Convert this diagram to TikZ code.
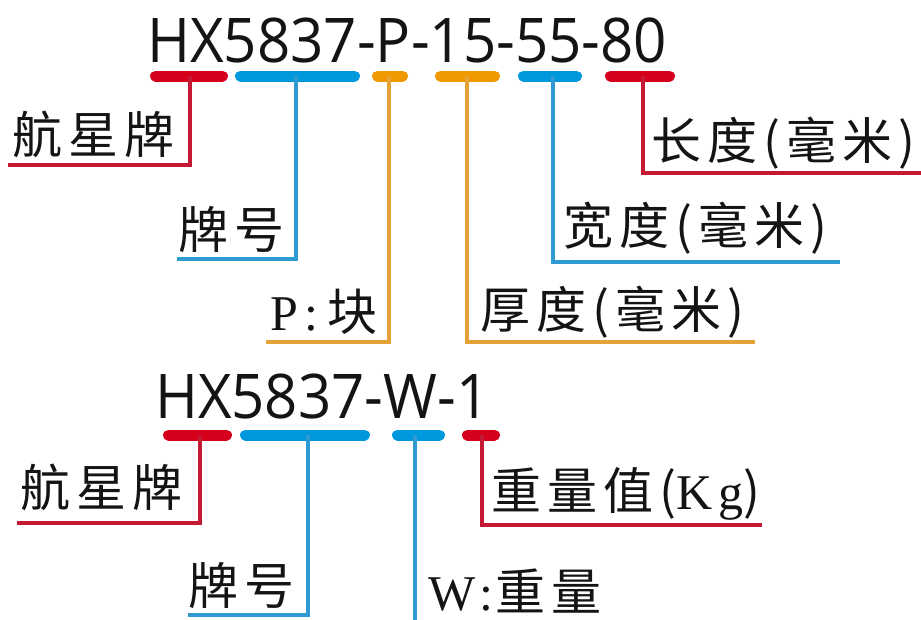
\documentclass[tikz,border=0pt]{standalone}
\usepackage{fontspec}
\setmainfont{Liberation Serif}
\newfontfamily\cjk[LetterSpace=12]{Noto Sans CJK SC}
\newfontfamily\latlab[LetterSpace=12]{Liberation Serif}
\newfontfamily\titlefont{Open Sans}
\definecolor{bred}{RGB}{214,0,28}
\definecolor{lred}{RGB}{195,25,50}
\definecolor{bblue}{RGB}{0,152,220}
\definecolor{lblue}{RGB}{45,155,210}
\definecolor{borange}{RGB}{240,152,0}
\definecolor{lorange}{RGB}{228,162,55}
\definecolor{ink}{RGB}{20,20,20}
\tikzset{
  thickbar/.style={line width=11pt, line cap=round},
  conn/.style={line width=4pt},
  lbl/.style={inner sep=0pt, anchor=base west, text=ink, font=\fontsize{50}{60}\selectfont},
  ttl/.style={inner sep=0pt, anchor=base west, text=ink, font=\titlefont\fontsize{61.6}{70}\selectfont},
}
\begin{document}
\begin{tikzpicture}[x=1pt,y=-1pt]
\useasboundingbox (0,0) rectangle (921,619);
\fill[white] (0,0) rectangle (921,619);

% ---------- top code ----------
\node[ttl] (t1) at (147,62) {\scalebox{0.946}[1]{HX5837-P-15-55-80}};
\draw[thickbar,bred]    (155.5,76) -- (222.5,76);
\draw[thickbar,bblue]   (240.5,76) -- (354.5,76);
\draw[thickbar,borange] (377.5,76) -- (402.5,76);
\draw[thickbar,borange] (440.5,76) -- (494.5,76);
\draw[thickbar,bblue]   (523.5,76) -- (576.5,76);
\draw[thickbar,bred]    (610.5,76) -- (669.5,76);

\coordinate (a1) at (190,76);  \coordinate (e1) at (8,165);
\coordinate (a2) at (296,76);  \coordinate (e2) at (177,259);
\coordinate (a3) at (389,76);  \coordinate (e3) at (266,342);
\coordinate (a4) at (467,76);  \coordinate (e4) at (755,342);
\coordinate (a5) at (553,76);  \coordinate (e5) at (840,262);
\coordinate (a6) at (643,76);  \coordinate (e6) at (921,173);

\draw[conn,lred]    (a1) |- (e1);
\draw[conn,lblue]   (a2) |- (e2);
\draw[conn,lorange] (a3) |- (e3);
\draw[conn,lorange] (a4) |- (e4);
\draw[conn,lblue]   (a5) |- (e5);
\draw[conn,lred]    (a6) |- (e6);

\node[lbl] (n1) at (12,153)  {\cjk 航星牌};
\node[lbl] (n2) at (178,248) {\cjk 牌号};
\node[lbl] (n3) at (270,330) {{\latlab P:}\hspace{10pt}{\cjk 块}};
\node[lbl] (n4) at (480,328) {\cjk 厚度(毫米)};
\node[lbl] (n5) at (563,244) {\cjk 宽度(毫米)};
\node[lbl] (n6) at (651,159) {\cjk 长度(毫米)};

% ---------- bottom code ----------
\node[ttl] (t2) at (155,418) {\scalebox{0.944}[1]{HX5837-W-1}};
\draw[thickbar,bred]  (168.5,435) -- (226.5,435);
\draw[thickbar,bblue] (245.5,435) -- (364.5,435);
\draw[thickbar,bblue] (397.5,435) -- (439.5,435);
\draw[thickbar,bred]  (467.5,435) -- (494.5,435);

\coordinate (c1) at (200,435);  \coordinate (f1) at (17,523);
\coordinate (c2) at (308,435);  \coordinate (f2) at (188,615);
\coordinate (c3) at (415,435);  \coordinate (f3) at (415,625);
\coordinate (c4) at (482,435);  \coordinate (f4) at (762,525);

\draw[conn,lred]  (c1) |- (f1);
\draw[conn,lblue] (c2) |- (f2);
\draw[conn,lblue] (c3) -- (f3);
\draw[conn,lred]  (c4) |- (f4);

\node[lbl] (m1) at (20,506)  {\cjk 航星牌};
\node[lbl] (m2) at (188,604) {\cjk 牌号};
\node[lbl] (m3) at (428,610) {{\latlab W:}\hspace{2pt}{\cjk 重量}};
\node[lbl] (m4) at (491,509) {{\cjk 重量值(}{\latlab Kg}{\cjk )}};
\end{tikzpicture}
\end{document}
